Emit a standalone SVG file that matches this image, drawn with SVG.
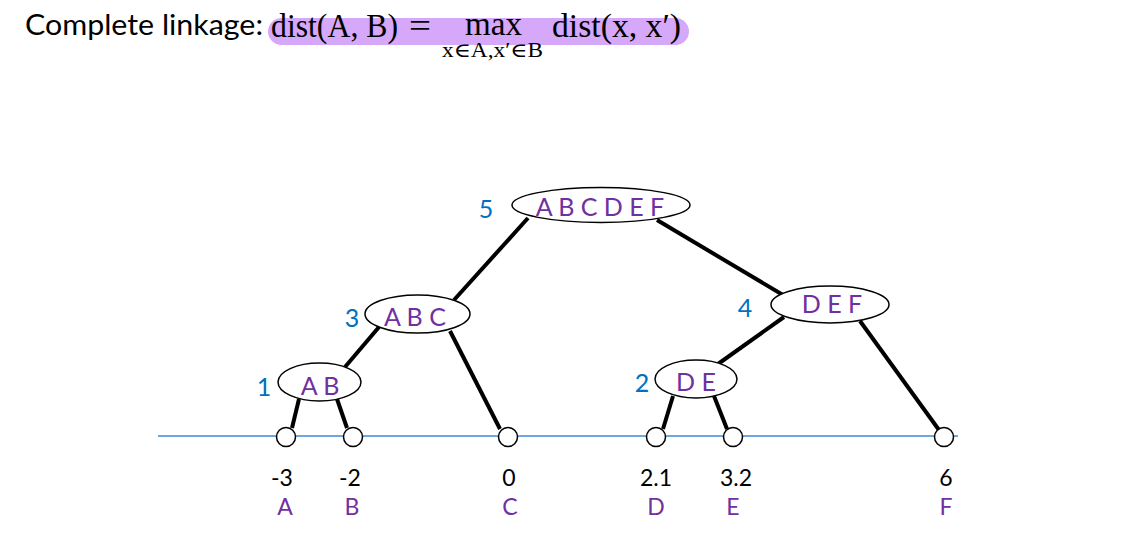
<svg xmlns="http://www.w3.org/2000/svg" width="1121" height="534" viewBox="0 0 1121 534">
<style>
.title{font-family:Lato,"Liberation Sans",sans-serif;font-size:29px;fill:#000}
.math{font-family:"Liberation Serif","DejaVu Serif",serif;font-size:33px;fill:#000}
.sub{font-family:"Liberation Serif","DejaVu Serif",serif;font-size:20px;fill:#000}
.node ellipse{fill:#fff;stroke:#000;stroke-width:1.5}
.lbl{font-family:Lato,"Liberation Sans",sans-serif;font-size:25px;fill:#7030a0;text-anchor:middle}
.num{font-family:Lato,"Liberation Sans",sans-serif;font-size:25px;fill:#0070c0;text-anchor:middle}
.leaf circle{fill:#fff;stroke:#000;stroke-width:1.5}
.val{font-family:Lato,"Liberation Sans",sans-serif;font-size:23px;fill:#000;text-anchor:middle}
.let{font-family:Lato,"Liberation Sans",sans-serif;font-size:23px;fill:#7030a0;text-anchor:middle}
#connectors line{stroke:#000;stroke-width:4;stroke-linecap:butt}
</style>
<rect x="268" y="18" width="421" height="27" rx="13.5" fill="#d6a8fa"/>
<text class="title" x="25" y="35" textLength="238" lengthAdjust="spacingAndGlyphs">Complete linkage:</text>
<text class="math" x="271" y="37" textLength="127" lengthAdjust="spacingAndGlyphs">dist(A, B)</text>
<text class="math" x="409" y="37" textLength="22" lengthAdjust="spacingAndGlyphs">=</text>
<text class="math" x="465" y="35" textLength="57" lengthAdjust="spacingAndGlyphs">max</text>
<text class="math" x="552" y="37" textLength="129" lengthAdjust="spacingAndGlyphs">dist(x, x′)</text>
<text class="sub" x="442" y="57" textLength="101" lengthAdjust="spacingAndGlyphs">x∈A,x′∈B</text>
<line x1="158" y1="436" x2="958" y2="436" stroke="#3c8ad6" stroke-width="1.3"/>
<g id="connectors">
<line x1="528" y1="218" x2="454" y2="300"/>
<line x1="657" y1="220" x2="783" y2="295"/>
<line x1="379" y1="327" x2="345" y2="367"/>
<line x1="450" y1="331" x2="500" y2="429"/>
<line x1="299" y1="399" x2="292" y2="428"/>
<line x1="337" y1="399" x2="347" y2="428"/>
<line x1="784" y1="317" x2="718" y2="364"/>
<line x1="860" y1="321" x2="939" y2="430"/>
<line x1="673" y1="396" x2="663" y2="429"/>
<line x1="714" y1="396" x2="727" y2="429"/>
</g>
<g id="node-ABCDEF" class="node"><ellipse cx="601" cy="205" rx="89" ry="17.5"/><text class="lbl" x="600" y="216">A B C D E F</text><text class="num" x="486" y="218">5</text></g>
<g id="node-ABC" class="node"><ellipse cx="417.5" cy="314" rx="52.5" ry="19"/><text class="lbl" x="415" y="326">A B C</text><text class="num" x="352" y="327">3</text></g>
<g id="node-AB" class="node"><ellipse cx="319.5" cy="382" rx="41.5" ry="19"/><text class="lbl" x="320" y="395">A B</text><text class="num" x="264" y="396">1</text></g>
<g id="node-DEF" class="node"><ellipse cx="830" cy="304.5" rx="59" ry="18.5"/><text class="lbl" x="832" y="313">D E F</text><text class="num" x="745" y="317">4</text></g>
<g id="node-DE" class="node"><ellipse cx="696" cy="379" rx="41" ry="19"/><text class="lbl" x="696" y="391">D E</text><text class="num" x="642" y="392">2</text></g>
<g id="leaf-A" class="leaf"><circle cx="286" cy="437" r="9.5"/><text class="val" x="282" y="486">-3</text><text class="let" x="285" y="515">A</text></g>
<g id="leaf-B" class="leaf"><circle cx="353" cy="437" r="9.5"/><text class="val" x="350" y="486">-2</text><text class="let" x="352" y="515">B</text></g>
<g id="leaf-C" class="leaf"><circle cx="508" cy="437" r="9.5"/><text class="val" x="509" y="486">0</text><text class="let" x="510" y="515">C</text></g>
<g id="leaf-D" class="leaf"><circle cx="656" cy="437" r="9.5"/><text class="val" x="656" y="486">2.1</text><text class="let" x="656" y="515">D</text></g>
<g id="leaf-E" class="leaf"><circle cx="733" cy="437" r="9.5"/><text class="val" x="736" y="486">3.2</text><text class="let" x="733" y="515">E</text></g>
<g id="leaf-F" class="leaf"><circle cx="944" cy="437" r="9.5"/><text class="val" x="946" y="486">6</text><text class="let" x="946" y="515">F</text></g>
</svg>
